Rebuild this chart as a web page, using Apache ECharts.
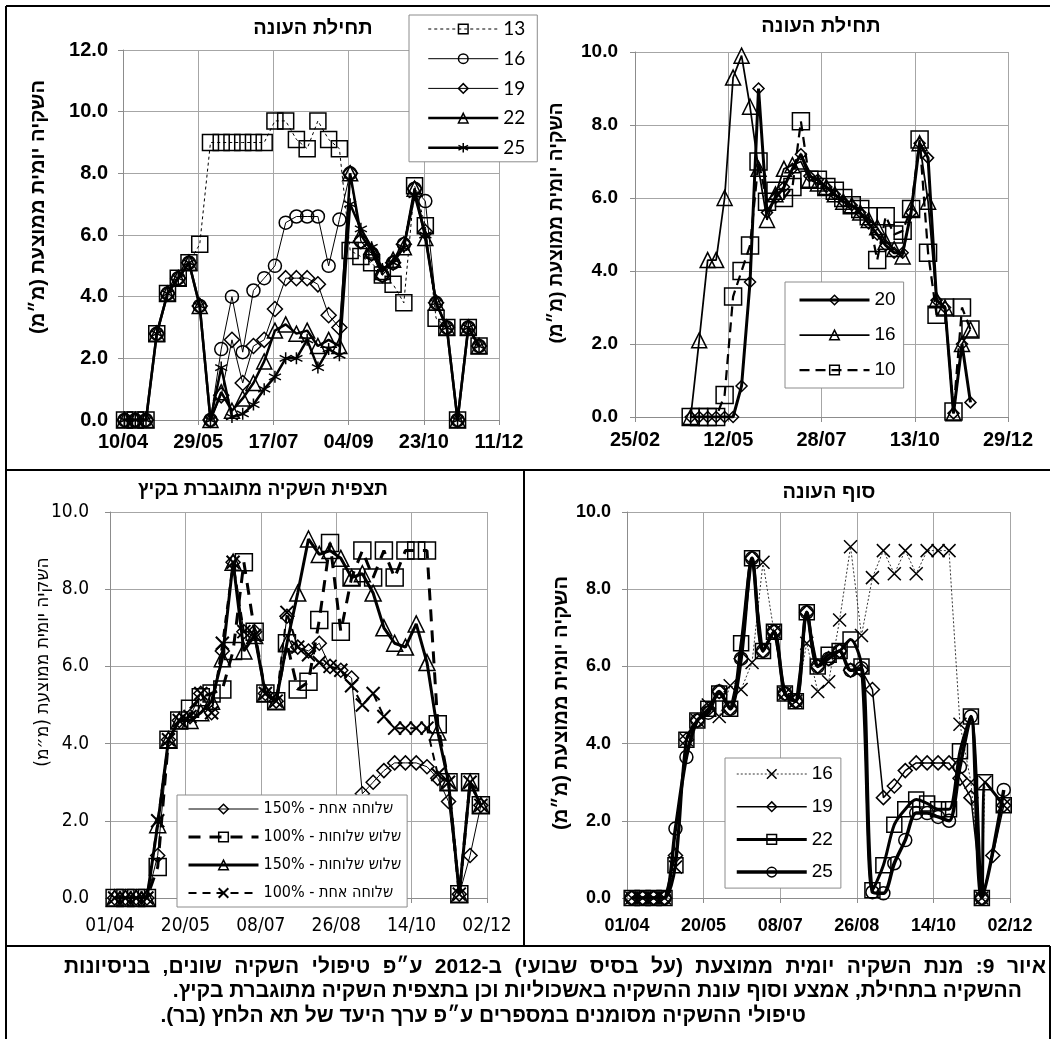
<!DOCTYPE html>
<html>
<head>
<meta charset="utf-8">
<script src="https://cdn.jsdelivr.net/npm/echarts@6/dist/echarts.min.js"></script>
<style>
html, body { margin: 0; padding: 0; background: #fff; }
#chart { width: 1053px; height: 1039px; }
</style>
</head>
<body>
<div id="chart"></div>
<script>
var RLM = '\u200F';
function heb(s) { return RLM + s + RLM; }

// axis ticks (dd/mm, 2012)
var ticksTL = ['10/04', '29/05', '17/07', '04/09', '23/10', '11/12'];
var ticksTR = ['25/02', '12/05', '28/07', '13/10', '29/12'];
var ticksBL = ['01/04', '20/05', '08/07', '26/08', '14/10', '02/12'];
var ticksBR = ['01/04', '20/05', '08/07', '26/08', '14/10', '02/12'];

// weekly sample dates
var datesTL = ['11/04','18/04','25/04','02/05','09/05','16/05','23/05','30/05','06/06','13/06','20/06','27/06','04/07','11/07','18/07','25/07','01/08','08/08','15/08','22/08','29/08','05/09','12/09','19/09','26/09','03/10','10/10','17/10','24/10','31/10','07/11','14/11','21/11','28/11'];
var datesTR = ['11/04','18/04','25/04','02/05','09/05','16/05','23/05','30/05','06/06','13/06','20/06','27/06','04/07','11/07','18/07','25/07','01/08','08/08','15/08','22/08','29/08','05/09','12/09','19/09','26/09','03/10','10/10','17/10','24/10','31/10','07/11','14/11','21/11','28/11'];
var datesBL = ['04/04','11/04','18/04','25/04','02/05','09/05','16/05','23/05','30/05','06/06','13/06','20/06','27/06','04/07','11/07','18/07','25/07','01/08','08/08','15/08','22/08','29/08','05/09','12/09','19/09','26/09','03/10','10/10','17/10','24/10','31/10','07/11','14/11','21/11','28/11'];
var datesBR = ['04/04','11/04','18/04','25/04','02/05','09/05','16/05','23/05','30/05','06/06','13/06','20/06','27/06','04/07','11/07','18/07','25/07','01/08','08/08','15/08','22/08','29/08','05/09','12/09','19/09','26/09','03/10','10/10','17/10','24/10','31/10','07/11','14/11','16/11','21/11','28/11'];

// top left - season start (13/16/19/22/25)
var tl13 = [0,0,0,2.8,4.1,4.6,5.1,5.7,9.0,9.0,9.0,9.0,9.0,9.0,9.7,9.7,9.1,8.8,9.7,9.1,8.8,5.5,5.3,5.1,4.7,4.4,3.8,7.6,6.3,3.3,3.0,0,3.0,2.4];
var tl16 = [0,0,0,2.8,4.1,4.6,5.1,3.7,0,2.3,4.0,2.2,4.2,4.6,5.0,6.4,6.6,6.6,6.6,5.0,6.5,8.0,5.8,5.4,4.7,5.1,5.7,7.5,7.1,3.8,3.0,0,3.0,2.4];
var tl19 = [0,0,0,2.8,4.1,4.6,5.1,3.7,0,0.8,2.6,1.2,2.4,2.6,3.6,4.6,4.6,4.6,4.4,3.4,3.0,8.0,5.8,5.4,4.7,5.1,5.7,7.5,6.1,3.8,3.0,0,3.0,2.4];
var tl22 = [0,0,0,2.8,4.1,4.6,5.1,3.7,0,0.9,0.3,0.7,1.2,1.9,2.9,3.1,2.8,2.9,2.4,2.6,2.4,8.0,6.0,5.5,4.8,5.2,5.6,7.5,5.9,3.8,3.0,0,3.0,2.4];
var tl25 = [0,0,0,2.8,4.1,4.6,5.1,3.7,0,1.7,0.1,0.2,0.5,1.0,1.4,2.0,2.0,2.6,1.7,2.3,2.1,7.0,6.2,5.6,4.9,5.1,5.6,7.3,6.0,3.8,3.0,0,3.0,2.4];

// top right - season start (20/16/10)
var tr20 = [0,0,0,0,0,0,0.85,3.7,9.0,5.6,6.0,6.3,6.8,7.2,6.6,6.5,6.3,6.1,5.9,5.8,5.6,5.3,5.0,4.7,4.5,4.5,5.6,7.5,7.1,3.2,3.0,0.1,2.0,0.4];
var tr16 = [0,2.1,4.3,4.3,6.0,9.3,9.9,8.5,6.8,5.4,6.1,6.8,6.9,7.0,6.5,6.4,6.3,6.1,5.9,5.8,5.6,5.4,5.2,4.8,4.6,4.4,5.7,7.5,5.9,3.2,3.0,0.1,2.0,2.4];
var tr10 = [0,0,0,0,0.6,3.3,4.0,4.7,7.0,5.9,6.2,6.0,6.3,8.1,6.5,6.5,6.3,6.2,6.0,5.8,5.7,5.5,4.3,5.5,5.0,5.1,5.7,7.6,4.5,2.8,3.0,0.15,3.0,2.4];

// bottom left - boosted summer irrigation
var blOne150 = [0,0,0,0,1.1,4.1,4.6,4.7,5.3,4.8,6.4,8.7,6.9,6.9,5.3,5.1,7.3,6.5,6.4,6.6,6.0,5.9,5.7,2.7,3.0,3.3,3.5,3.5,3.5,3.4,3.1,2.5,0.1,1.1,2.4];
var blThree100 = [0,0,0,0,0.8,4.1,4.6,4.9,5.2,5.3,5.4,6.4,8.7,6.9,5.3,5.1,6.6,5.4,5.6,7.2,9.2,6.9,8.3,9.0,8.3,9.0,8.3,9.0,9.0,9.0,4.5,3.0,0.1,3.0,2.4];
var blThree150 = [0,0,0,0,1.9,4.1,4.6,4.6,4.8,5.1,6.2,8.7,6.4,6.8,5.3,5.1,6.6,7.9,9.3,8.9,9.0,8.8,8.3,8.4,7.9,7.0,6.6,6.5,7.1,6.1,4.3,3.0,0.1,3.0,2.4];
var blOne100 = [0,0,0,0,2.0,4.1,4.6,4.7,5.3,4.8,6.6,8.7,6.9,6.8,5.3,5.1,7.4,6.5,6.3,6.1,6.0,5.9,5.5,5.0,5.3,4.7,4.4,4.4,4.4,4.4,3.2,3.0,0.1,3.0,2.4];

// bottom right - season end (16/19/22/25)
var br16 = [0,0,0,0,0.8,4.1,4.6,5.0,4.7,5.5,5.4,6.1,8.7,6.9,5.3,5.1,6.6,5.35,5.6,7.2,9.1,6.8,8.3,9.0,8.4,9.0,8.4,9.0,9.0,9.0,4.5,3.0,0,3.0,null,2.4];
var br19 = [0,0,0,0,1.1,4.1,4.6,4.9,5.35,4.9,6.2,8.8,6.4,6.9,5.3,5.1,7.4,6.0,6.2,6.4,5.9,5.9,5.4,2.6,2.9,3.3,3.5,3.5,3.5,3.5,3.1,2.6,0,null,1.1,2.4];
var br22 = [0,0,0,0,0.85,4.1,4.6,4.9,5.3,4.9,6.6,8.8,6.4,6.9,5.3,5.1,7.4,6.0,6.3,6.4,6.7,6.0,0.2,0.85,1.9,2.3,2.55,2.45,2.3,2.3,3.8,4.7,0,3.0,null,2.4];
var br25 = [0,0,0,0,1.8,3.65,4.6,4.8,5.35,4.9,6.2,8.8,6.4,6.9,5.3,5.1,7.4,6.0,6.2,6.4,5.9,5.95,0.15,0.12,0.9,1.5,2.2,2.2,2.1,2.0,3.4,4.7,0,null,null,2.8];

var caption = [
    'איור 9: מנת השקיה יומית ממוצעת (על בסיס שבועי) ב-2012 ע״פ טיפולי השקיה שונים, בניסיונות',
    'ההשקיה בתחילת, אמצע וסוף עונת ההשקיה באשכוליות וכן בתצפית השקיה מתוגברת בקיץ.',
    'טיפולי ההשקיה מסומנים במספרים ע״פ ערך היעד של תא הלחץ (בר).'
];

// ---------- helpers ----------
var monthStart = [0, 31, 60, 91, 121, 152, 182, 213, 244, 274, 305, 335]; // 2012
function toDay(s) { var p = s.split('/'); return monthStart[+p[1] - 1] + (+p[0]); }
function toLabel(d) {
    var m = 11;
    while (monthStart[m] >= d) m--;
    var dd = d - monthStart[m];
    return (dd < 10 ? '0' : '') + dd + '/' + (m < 9 ? '0' : '') + (m + 1);
}
function pts(dates, vals, ticks) {
    var start = toDay(ticks[0]);
    return dates.map(function (d, i) { return [toDay(d) - start, vals[i]]; });
}

var ARIAL = '"Liberation Sans", Arial, sans-serif';
var NARROW = '"Liberation Sans Narrow", "DejaVu Sans Condensed", "Liberation Sans", sans-serif';
var symX = 'path://M0,0L10,10M0,10L10,0';
var symStar = 'path://M5,0L5,10M0.7,2.5L9.3,7.5M0.7,7.5L9.3,2.5';

function xAxisFor(i, ticks, lab) {
    var start = toDay(ticks[0]);
    return {
        type: 'value', gridIndex: i, min: 0,
        max: toDay(ticks[ticks.length - 1]) - start,
        interval: toDay(ticks[1]) - start,
        axisLine: { show: true, onZero: false, lineStyle: { color: '#8c8c8c', width: 1 } },
        axisTick: { show: true, length: 5, lineStyle: { color: '#8c8c8c' } },
        splitLine: { show: true, lineStyle: { color: '#a6a6a6', width: 1 } },
        axisLabel: Object.assign({
            color: '#000', showMinLabel: true, showMaxLabel: true,
            formatter: function (v) { return toLabel(v + start); }
        }, lab)
    };
}
function yAxisFor(i, max, lab) {
    return {
        type: 'value', gridIndex: i, min: 0, max: max, interval: 2,
        axisLine: { show: true, lineStyle: { color: '#8c8c8c', width: 1 } },
        axisTick: { show: true, length: 5, lineStyle: { color: '#8c8c8c' } },
        splitLine: { show: true, lineStyle: { color: '#a6a6a6', width: 1 } },
        axisLabel: Object.assign({
            color: '#000', showMinLabel: true, showMaxLabel: true,
            formatter: function (v) { return v.toFixed(1); }
        }, lab)
    };
}
function mk(name, p, data, o) {
    return {
        type: 'line', name: name, xAxisIndex: p, yAxisIndex: p, data: data,
        symbol: o.sym, symbolSize: o.size, connectNulls: true, smooth: o.smooth || false,
        lineStyle: { color: o.color || '#000', width: o.w, type: o.dash || 'solid' },
        itemStyle: { color: 'rgba(0,0,0,0)', borderColor: '#000', borderWidth: o.bw || 1.5 },
        emphasis: { disabled: true }, z: o.z || 2
    };
}
function legendFor(names, left, top, pad, gap, font) {
    return {
        data: names, orient: 'vertical', left: left, top: top, padding: pad, itemGap: gap,
        itemWidth: 70, itemHeight: 12, selectedMode: false,
        backgroundColor: '#fff', borderColor: '#8c8c8c', borderWidth: 1,
        lineStyle: { width: 'inherit', type: 'inherit' },
        itemStyle: { borderWidth: 'inherit' },
        textStyle: font,
        formatter: function (n) { return n.split('|')[1]; }
    };
}
function txt(s, x, y, size, weight, family, align, rot) {
    return {
        type: 'text', x: x, y: y, rotation: rot || 0, silent: true,
        style: {
            text: s, fill: '#000', fontSize: size, fontWeight: weight, fontFamily: family,
            align: align || 'center', textAlign: align || 'center',
            verticalAlign: 'middle', textVerticalAlign: 'middle'
        }
    };
}
function ln(x1, y1, x2, y2, w) {
    return { type: 'line', silent: true, shape: { x1: x1, y1: y1, x2: x2, y2: y2 }, style: { stroke: '#000', lineWidth: w || 2 } };
}

// first caption line is justified between two edges: place word by word (right to left)
var measureCtx = document.createElement('canvas').getContext('2d');
function justified(line, right, left, y, size) {
    measureCtx.font = 'bold ' + size + 'px ' + ARIAL;
    var words = line.split(' ');
    var widths = words.map(function (w) { return measureCtx.measureText(heb(w)).width; });
    var sum = widths.reduce(function (a, b) { return a + b; }, 0);
    var gap = (right - left - sum) / (words.length - 1);
    var x = right, out = [];
    words.forEach(function (w, i) {
        out.push(txt(heb(w), x, y, size, 'bold', ARIAL, 'right'));
        x -= widths[i] + gap;
    });
    return out;
}

var yName = heb('השקיה יומית ממוצעת (מ״מ)');
var nOne150 = 'bl|' + heb('שלוחה אחת - 150%');
var nThree100 = 'bl|' + heb('שלוש שלוחות - 100%');
var nThree150 = 'bl|' + heb('שלוש שלוחות - 150%');
var nOne100 = 'bl|' + heb('שלוחה אחת - 100%');

var capSize = 21;
var graphics = [
    // frame
    ln(6, 6, 1050, 6), ln(6, 6, 6, 1039), ln(6, 470, 1050, 470),
    ln(524, 470, 524, 946), ln(6, 946, 1050, 946), ln(1050, 946, 1050, 1039),
    // titles
    txt(heb('תחילת העונה'), 313, 28, 20, 'bold', ARIAL),
    txt(heb('תחילת העונה'), 821, 26, 20, 'bold', ARIAL),
    txt(heb('תצפית השקיה מתוגברת בקיץ'), 263, 490, 19, 'bold', ARIAL),
    txt(heb('סוף העונה'), 829, 492, 20, 'bold', ARIAL),
    // axis names
    txt(yName, 38, 207, 20, 'bold', ARIAL, 'center', Math.PI / 2),
    txt(yName, 557, 223, 19, 'bold', ARIAL, 'center', Math.PI / 2),
    txt(yName, 43, 662, 19, 'normal', NARROW, 'center', Math.PI / 2),
    txt(yName, 561, 703, 20, 'bold', ARIAL, 'center', Math.PI / 2),
    // caption lines 2 and 3
    txt(heb(caption[1]), 1022, 991, capSize, 'bold', ARIAL, 'right'),
    txt(heb(caption[2]), 806, 1016, capSize, 'bold', ARIAL, 'right')
].concat(justified(caption[0], 1046, 64, 967, capSize));

var option = {
    animation: false,
    backgroundColor: '#fff',
    grid: [
        { left: 123, top: 50, width: 376, height: 370 },
        { left: 635, top: 52, width: 373, height: 365 },
        { left: 110, top: 512, width: 377, height: 386 },
        { left: 627, top: 512, width: 383, height: 386 }
    ],
    xAxis: [
        xAxisFor(0, ticksTL, { fontSize: 20, fontWeight: 'bold', fontFamily: ARIAL, margin: 12 }),
        xAxisFor(1, ticksTR, { fontSize: 20, fontWeight: 'bold', fontFamily: ARIAL, margin: 13 }),
        xAxisFor(2, ticksBL, { fontSize: 19, fontFamily: NARROW, margin: 19 }),
        xAxisFor(3, ticksBR, { fontSize: 18, fontWeight: 'bold', fontFamily: ARIAL, margin: 19 })
    ],
    yAxis: [
        yAxisFor(0, 12, { fontSize: 20, fontWeight: 'bold', fontFamily: ARIAL, margin: 15 }),
        yAxisFor(1, 10, { fontSize: 19, fontWeight: 'bold', fontFamily: ARIAL, margin: 17 }),
        yAxisFor(2, 10, { fontSize: 19, fontFamily: NARROW, margin: 21 }),
        yAxisFor(3, 10, { fontSize: 18, fontWeight: 'bold', fontFamily: ARIAL, margin: 16 })
    ],
    legend: [
        legendFor(['tl|13', 'tl|16', 'tl|19', 'tl|22', 'tl|25'], 409, 15, [4, 12, 4, 18], 9.7,
            { fontFamily: 'Lato, "Open Sans", sans-serif', fontSize: 19, lineHeight: 20, color: '#000' }),
        legendFor(['tr|20', 'tr|16', 'tr|10'], 785, 282, [8, 8, 8, 13], 15,
            { fontFamily: ARIAL, fontSize: 19, lineHeight: 20, color: '#000' }),
        legendFor([nOne150, nThree100, nThree150, nOne100], 177, 795, [4, 6, 4, 10], 8,
            { fontFamily: NARROW, fontSize: 16, lineHeight: 20, color: '#000' }),
        legendFor(['br|16', 'br|19', 'br|22', 'br|25'], 725, 758, [6, 8, 6, 10], 12.7,
            { fontFamily: ARIAL, fontSize: 19, lineHeight: 20, color: '#000' })
    ],
    series: [
        mk('tl|13', 0, pts(datesTL, tl13, ticksTL), { sym: 'rect', size: 16, w: 1, dash: [3, 3] }),
        mk('tl|16', 0, pts(datesTL, tl16, ticksTL), { sym: 'circle', size: 13, w: 1 }),
        mk('tl|19', 0, pts(datesTL, tl19, ticksTL), { sym: 'diamond', size: 15, w: 1 }),
        mk('tl|22', 0, pts(datesTL, tl22, ticksTL), { sym: 'triangle', size: 15, w: 2.5, z: 3 }),
        mk('tl|25', 0, pts(datesTL, tl25, ticksTL), { sym: symStar, size: 12, w: 2.5, z: 3 }),

        mk('tr|20', 1, pts(datesTR, tr20, ticksTR), { sym: 'diamond', size: 11, w: 3, z: 4 }),
        mk('tr|16', 1, pts(datesTR, tr16, ticksTR), { sym: 'triangle', size: 15, w: 1.75, z: 3 }),
        mk('tr|10', 1, pts(datesTR, tr10, ticksTR), { sym: 'rect', size: 17, w: 2.25, dash: [10, 6] }),

        mk(nOne150, 2, pts(datesBL, blOne150, ticksBL), { sym: 'diamond', size: 14, w: 1 }),
        mk(nThree100, 2, pts(datesBL, blThree100, ticksBL), { sym: 'rect', size: 17, w: 3, dash: [12, 9], z: 3 }),
        mk(nThree150, 2, pts(datesBL, blThree150, ticksBL), { sym: 'triangle', size: 16, w: 3, z: 3 }),
        mk(nOne100, 2, pts(datesBL, blOne100, ticksBL), { sym: symX, size: 13, w: 2, dash: [8, 6], bw: 2 }),

        mk('br|16', 3, pts(datesBR, br16, ticksBR), { sym: symX, size: 13, w: 1, dash: [2, 2], color: '#333' }),
        mk('br|19', 3, pts(datesBR, br19, ticksBR), { sym: 'diamond', size: 14, w: 1.5 }),
        mk('br|22', 3, pts(datesBR, br22, ticksBR), { sym: 'rect', size: 15, w: 3, smooth: 0.3, z: 3 }),
        mk('br|25', 3, pts(datesBR, br25, ticksBR), { sym: 'circle', size: 13, w: 3.5, smooth: 0.3, z: 3 })
    ],
    graphic: { elements: graphics }
};

var chart = echarts.init(document.getElementById('chart'));
chart.setOption(option);
</script>
</body>
</html>
